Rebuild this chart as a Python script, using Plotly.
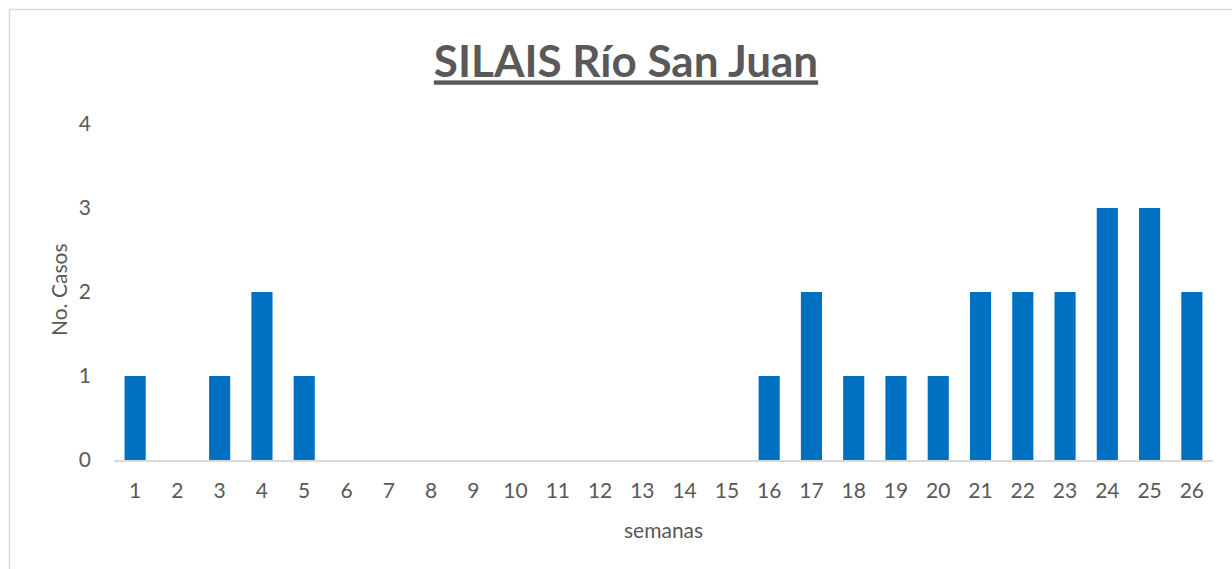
import plotly.graph_objects as go

semanas = [str(i) for i in range(1, 27)]
casos = [1, 0, 1, 2, 1, 0, 0, 0, 0, 0, 0, 0, 0, 0, 0, 1, 2, 1, 1, 1, 2, 2, 2, 3, 3, 2]
y_ticks = [0, 1, 2, 3, 4]

W, H = 1232, 569
L, R, T, B = 114, 19, 124, 109
pw = W - L - R
ph = H - T - B

def px_x(x):
    return (x - L) / pw

def px_y(y):
    return (H - B - y) / ph

gray = "#595959"
font_family = "Lato, 'Open Sans', sans-serif"
fs = 21

fig = go.Figure(go.Bar(
    x=semanas, y=casos, marker_color="#0070C0", marker_line_width=0, width=0.5,
))

fig.update_layout(
    width=W, height=H,
    margin=dict(l=L, r=R, t=T, b=B),
    paper_bgcolor="white", plot_bgcolor="white",
    showlegend=False,
    font=dict(family=font_family, color=gray, size=fs),
    title=dict(
        text="<b><u>SILAIS Río San Juan</u></b>",
        x=626 / W, xanchor="center",
        y=1 - 62 / H, yanchor="middle",
        font=dict(size=44, color=gray, family=font_family),
    ),
    xaxis=dict(
        type="category", showgrid=False, zeroline=False,
        showline=True, linecolor="#D9D9D9", linewidth=2,
        ticks="", ticklabelstandoff=11,
        tickfont=dict(size=fs, color=gray),
    ),
    yaxis=dict(
        range=[0, 4], tickvals=y_ticks, showgrid=False, zeroline=False,
        showline=False, ticks="", ticklabelstandoff=22,
        tickfont=dict(size=fs, color=gray),
    ),
    annotations=[
        dict(text="semanas", xref="paper", yref="paper", x=px_x(663), y=px_y(529),
             xanchor="center", yanchor="middle", showarrow=False,
             font=dict(size=fs, color=gray)),
        dict(text="No. Casos", xref="paper", yref="paper", x=px_x(58), y=px_y(290),
             xanchor="center", yanchor="middle", showarrow=False, textangle=-90,
             font=dict(size=fs, color=gray)),
    ],
    shapes=[
        dict(type="line", xref="paper", yref="paper", x0=px_x(9.5), y0=px_y(9.5),
             x1=px_x(1240), y1=px_y(9.5), line=dict(color="#D9D9D9", width=1.5)),
        dict(type="line", xref="paper", yref="paper", x0=px_x(9.5), y0=px_y(9.5),
             x1=px_x(9.5), y1=px_y(580), line=dict(color="#D9D9D9", width=1.5)),
    ],
)

fig.write_html(
    "out.html",
    config={"displayModeBar": False},
    post_script="document.body.style.margin='0';document.body.style.overflow='hidden';",
)
